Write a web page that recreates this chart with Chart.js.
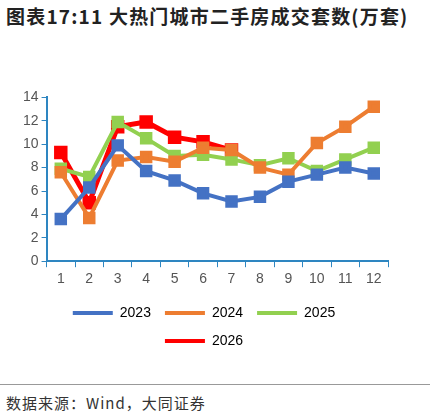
<!DOCTYPE html>
<html><head><meta charset="utf-8">
<script src="https://cdn.jsdelivr.net/npm/chart.js@4"></script>
<style>
body{margin:0;width:430px;height:420px;background:#fff;font-family:"Noto Sans CJK SC",sans-serif;position:relative}
#title{position:absolute;left:6px;top:2px;width:418px;font-size:19px;font-weight:bold;color:#222;line-height:28px;letter-spacing:1.2px}
#wrap{position:absolute;left:20px;top:86px;width:382px;height:272px}
#line{position:absolute;left:0;top:384px;width:430px;border-top:1px solid #999}
#src{position:absolute;left:6px;top:392px;font-size:15px;color:#333;letter-spacing:1px}
</style></head><body>
<div id="title">图表17:11 大热门城市二手房成交套数(万套)</div>
<div id="wrap"><canvas id="c"></canvas></div>
<div id="line"></div>
<div id="src">数据来源：Wind，大同证券</div>
<script>
// months
const labels = ['1','2','3','4','5','6','7','8','9','10','11','12'];
const y2023 = [3.6,6.3,9.9,7.7,6.9,5.8,5.1,5.5,6.8,7.4,8.0,7.5];
const y2024 = [7.6,3.7,8.6,8.9,8.5,9.7,9.5,8.0,7.4,10.1,11.5,13.2];
const y2025 = [7.9,7.2,11.9,10.5,9.0,9.1,8.7,8.2,8.8,7.7,8.7,9.7];
const y2026 = [9.3,5.0,11.5,11.9,10.6,10.2,9.5];

const ds = (label, data, color, w) => ({
  label, data, borderColor: color, backgroundColor: color,
  borderWidth: w, pointStyle: 'rect', pointRadius: 6, pointHoverRadius: 6
});

new Chart(document.getElementById('c'), {
  type: 'line',
  data: {
    labels,
    datasets: [
      ds('2023', y2023, '#4472C4', 4),
      ds('2024', y2024, '#ED7D31', 4),
      ds('2025', y2025, '#92D050', 4),
      ds('2026', y2026, '#FF0000', 5)
    ]
  },
  options: {
    responsive: true, maintainAspectRatio: false, animation: false,
    layout: {padding: {right: 14}},
    plugins: {
      legend: {
        position: 'bottom',
        labels: {
          boxWidth: 40, boxHeight: 4,
          color: '#333', font: {size: 14, family: 'Liberation Sans'}, padding: 14,
          generateLabels: (chart) => chart.data.datasets.map((d, i) => ({
            text: d.label, fillStyle: d.borderColor, strokeStyle: d.borderColor,
            lineWidth: 0, datasetIndex: i
          }))
        }
      },
      tooltip: {enabled: false}
    },
    scales: {
      x: {
        offset: true,
        grid: {drawOnChartArea: false, offset: true, tickLength: 6, color: '#2E86C1'},
        border: {color: '#2E86C1', width: 2},
        ticks: {color: '#555', font: {size: 14, family: 'Liberation Sans'}, padding: 4}
      },
      y: {
        min: 0, max: 14,
        ticks: {stepSize: 2, color: '#555', font: {size: 14, family: 'Liberation Sans'}},
        grid: {drawOnChartArea: false, tickLength: 5, color: '#2E86C1'},
        border: {color: '#2E86C1', width: 2}
      }
    }
  }
});
</script>
</body></html>
